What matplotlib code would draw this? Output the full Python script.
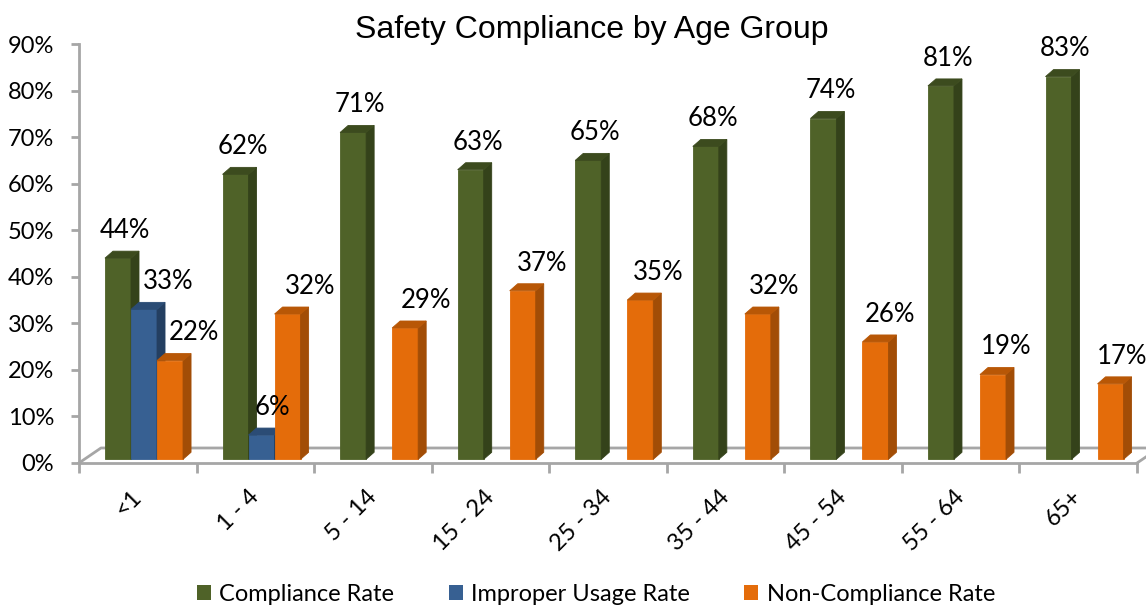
import numpy as np
import matplotlib
matplotlib.use("Agg")
import matplotlib.pyplot as plt
from matplotlib.patches import Polygon, Patch

# data
groupes = ["<1", "1 - 4", "5 - 14", "15 - 24", "25 - 34", "35 - 44", "45 - 54", "55 - 64", "65+"]
compliance = [44, 62, 71, 63, 65, 68, 74, 81, 83]
improper = [33, 6, None, None, None, None, None, None, None]
non_compliance = [22, 32, 29, 37, 35, 32, 26, 19, 17]

series = [
    ("Compliance Rate", compliance, "#4F6228", "#34421A", "#3C4B1E"),
    ("Improper Usage Rate", improper, "#376092", "#243F61", "#2B4C75"),
    ("Non-Compliance Rate", non_compliance, "#E46C0A", "#A24D06", "#B85706"),
]

plt.rcParams["font.family"] = ["Lato", "DejaVu Sans"]

fig = plt.figure(figsize=(11.46, 6.08), dpi=100)
ax = fig.add_axes([0.0689, 0.2385, 0.9233, 0.6891])
ax.set_xlim(0, 9)
ax.set_ylim(0, 0.9)

largeur = 0.2213
decalages = [-0.168, -0.168 + largeur, -0.168 + 2 * largeur]
dx = 8 / 117.5   # profondeur des barres (unites x)
dy = 7 / 46.56 * 0.1
base = 0.008     # les barres posent au milieu du sol


def label_dx(k, i):
    # decalage horizontal des etiquettes (pixels), effet de perspective
    if k == 0:
        return 7
    if k == 1:
        return 24 - 13 * i
    return 24 - 1.6 * i


# sol 3D
fx = 22 / 117.5
fy = 15 / 46.56 * 0.1
gris = "#A6A6A6"
ax.plot([0, fx, 9 + fx + 0.2], [0, fy, fy], color=gris, lw=2, clip_on=False, zorder=1)
ax.plot([9, 9 + fx], [0, fy], color=gris, lw=2, clip_on=False, zorder=1)

for k, (nom, vals, c_face, c_cote, c_haut) in enumerate(series):
    for i, v in enumerate(vals):
        if v is None:
            continue
        h = v / 100
        x0 = i + 0.5 + decalages[k] - largeur / 2
        x1 = x0 + largeur
        y0 = base
        z = 3 + k
        faces = [
            ([(x0, y0), (x1, y0), (x1, h), (x0, h)], c_face),
            ([(x1, y0), (x1 + dx, y0 + dy), (x1 + dx, h + dy), (x1, h)], c_cote),
            ([(x0, h), (x0 + dx, h + dy), (x1 + dx, h + dy), (x1, h)], c_haut),
        ]
        for pts, c in faces:
            ax.add_patch(Polygon(pts, closed=True, facecolor=c, edgecolor=c,
                                 linewidth=0.6, zorder=z))
        ax.annotate(f"{v}%", xy=((x0 + x1) / 2, h), xytext=(label_dx(k, i) * 0.72, 14.5),
                    textcoords="offset points", ha="center", va="baseline",
                    fontsize=18.5, color="black", zorder=10)

# axes
for s in ["top", "right"]:
    ax.spines[s].set_visible(False)
ax.spines["left"].set_color(gris)
ax.spines["left"].set_linewidth(2)
ax.spines["bottom"].set_color(gris)
ax.spines["bottom"].set_linewidth(2)
ax.spines["bottom"].set_zorder(1)

yt = np.arange(0, 0.91, 0.1)
ax.set_yticks(yt)
ax.set_yticklabels([f"{int(round(t * 100))}%" for t in yt], fontsize=17)
ax.tick_params(axis="y", length=6, width=2, color=gris, pad=12)

ax.set_xticks(np.arange(0, 10))
ax.set_xticklabels([])
ax.tick_params(axis="x", which="major", length=7, width=2, color=gris)
ax.set_xticks(np.arange(9) + 0.5, minor=True)
ax.set_xticklabels(groupes, minor=True, rotation=45, ha="right", va="center",
                   rotation_mode="anchor", fontsize=17)
ax.tick_params(axis="x", which="minor", length=0, pad=22)

fig.text(0.516, 0.951, "Safety Compliance by Age Group", ha="center", va="center",
         fontsize=23, family="Liberation Sans")

handles = [Patch(facecolor=c, edgecolor="none", label=n) for n, _, c, _, _ in series]
fig.legend(handles=handles, loc="center", bbox_to_anchor=(0.52, 0.022), ncol=3,
           frameon=False, fontsize=17, handlelength=0.6, handleheight=0.6,
           handletextpad=0.35, columnspacing=2.3)

fig.savefig("out.png", dpi=100)
